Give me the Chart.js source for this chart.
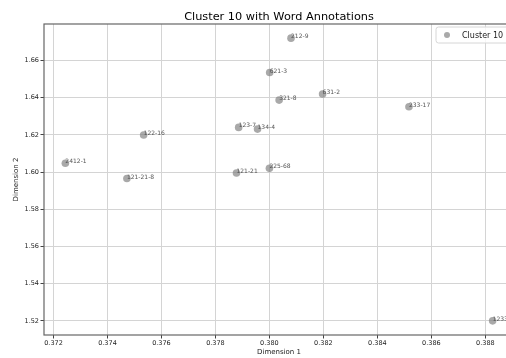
<!DOCTYPE html>
<html>
<head>
<meta charset="utf-8">
<script src="https://cdn.jsdelivr.net/npm/chart.js@4/dist/chart.umd.min.js"></script>
<style>
  html, body { margin: 0; padding: 0; background: #fff; overflow: hidden; }
  #wrap { width: 540px; height: 358px; }
</style>
</head>
<body>
<div id="wrap"><canvas id="c" width="540" height="358"></canvas></div>
<script>
// Word labels and their 2-D embedding coordinates
const words = ['212-9', '621-3', '321-8', '631-2', '233-17', '123-7', '134-4', '122-16',
               '2412-1', '121-21-8', '121-21', '225-68', '1233'];
const dim1 = [0.38080, 0.38001, 0.38036, 0.38197, 0.38517, 0.37886, 0.37956, 0.37534,
              0.37244, 0.37472, 0.37878, 0.38000, 0.38827];
const dim2 = [1.6720, 1.6535, 1.6387, 1.6420, 1.6351, 1.6240, 1.6231, 1.6199,
              1.6047, 1.5965, 1.5995, 1.6020, 1.5200];

const xTicks = [0.372, 0.374, 0.376, 0.378, 0.380, 0.382, 0.384, 0.386, 0.388];
const yTicks = [1.52, 1.54, 1.56, 1.58, 1.60, 1.62, 1.64, 1.66];

const seriesLabel = 'Cluster 10';
const chartTitle = 'Cluster 10 with Word Annotations';
const FONT = 'DejaVu Sans';

// axis limits with a 5% margin around the data
const pad = (arr) => { const lo = Math.min(...arr), hi = Math.max(...arr), m = (hi - lo) * 0.05; return [lo - m, hi + m]; };
const [xMin, xMax] = pad(dim1);
const [yMin, yMax] = pad(dim2);

const points = dim1.map((x, i) => ({ x, y: dim2[i] }));
const pointColor = 'rgba(128,128,128,0.68)';

// title centred over the plot area, frame, word annotations and legend box
const extras = {
  id: 'extras',
  afterDraw(chart) {
    const { ctx, chartArea: a } = chart;
    ctx.save();
    ctx.fillStyle = '#000';
    ctx.font = '11.3px ' + FONT;
    ctx.textAlign = 'center';
    ctx.textBaseline = 'alphabetic';
    ctx.fillText(chartTitle, (a.left + a.right) / 2, a.top - 4);
    ctx.restore();
  },
  afterDatasetsDraw(chart) {
    const { ctx, chartArea: a } = chart;
    const meta = chart.getDatasetMeta(0);
    ctx.save();
    ctx.beginPath();
    ctx.rect(a.left, a.top, a.right - a.left, a.bottom - a.top);
    ctx.clip();
    ctx.fillStyle = '#555';
    ctx.font = '6px ' + FONT;
    ctx.textAlign = 'left';
    ctx.textBaseline = 'alphabetic';
    meta.data.forEach((el, i) => {
      ctx.fillText(words[i], el.x, el.y);
    });
    // legend box in the upper right corner
    const bx = a.right - 78, by = a.top + 3, bw = 74, bh = 16;
    ctx.beginPath();
    ctx.roundRect(bx, by, bw, bh, 2.5);
    ctx.fillStyle = 'rgba(255,255,255,0.8)';
    ctx.fill();
    ctx.strokeStyle = '#d6d6d6';
    ctx.lineWidth = 1;
    ctx.stroke();
    ctx.beginPath();
    ctx.arc(bx + 11, by + bh / 2, 3, 0, Math.PI * 2);
    ctx.fillStyle = pointColor;
    ctx.fill();
    ctx.fillStyle = '#222';
    ctx.font = '8px ' + FONT;
    ctx.textBaseline = 'middle';
    ctx.fillText(seriesLabel, bx + 26, by + bh / 2 + 0.5);
    ctx.restore();

    ctx.save();
    ctx.strokeStyle = '#666';
    ctx.lineWidth = 1.2;
    ctx.strokeRect(a.left, a.top, a.right - a.left, a.bottom - a.top);
    ctx.restore();
  }
};

new Chart(document.getElementById('c'), {
  type: 'scatter',
  data: {
    datasets: [{
      label: seriesLabel,
      data: points,
      backgroundColor: pointColor,
      borderWidth: 0,
      pointRadius: 3.8,
      pointHoverRadius: 3.8
    }]
  },
  options: {
    responsive: false,
    animation: false,
    layout: { padding: { left: 0, right: 26, top: 24, bottom: 0 } },
    plugins: {
      legend: { display: false },
      tooltip: { enabled: false },
      title: { display: false }
    },
    scales: {
      x: {
        type: 'linear',
        min: xMin, max: xMax,
        afterBuildTicks: (s) => { s.ticks = xTicks.map(v => ({ value: v })); },
        afterFit: (s) => { s.height = 23; },
        ticks: {
          callback: (v) => Number(v).toFixed(3),
          color: '#222',
          font: { family: FONT, size: 6.5 },
          padding: 1,
          maxRotation: 0,
          autoSkip: false
        },
        grid: { color: '#d4d4d4', lineWidth: 1, tickLength: 3.5, tickColor: '#444' },
        border: { display: false },
        title: {
          display: true, text: 'Dimension 1', color: '#222',
          font: { family: FONT, size: 7 }, padding: { top: 0, bottom: 2 }
        }
      },
      y: {
        type: 'linear',
        min: yMin, max: yMax,
        afterBuildTicks: (s) => { s.ticks = yTicks.map(v => ({ value: v })); },
        afterFit: (s) => { s.width = 44; },
        ticks: {
          callback: (v) => Number(v).toFixed(2),
          color: '#222',
          font: { family: FONT, size: 6.5 },
          padding: 1.5,
          autoSkip: false
        },
        grid: { color: '#d4d4d4', lineWidth: 1, tickLength: 3.5, tickColor: '#444' },
        border: { display: false },
        title: {
          display: true, text: 'Dimension 2', color: '#222',
          font: { family: FONT, size: 7 }, padding: { top: 12, bottom: 0 }
        }
      }
    }
  },
  plugins: [extras]
});
</script>
</body>
</html>
